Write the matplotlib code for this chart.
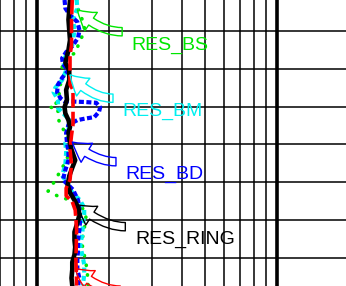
import numpy as np
import matplotlib
matplotlib.use('Agg')
import matplotlib.pyplot as plt

plt.rcParams['font.family'] = ['Liberation Sans', 'DejaVu Sans']

# resistivity curves (ohm.m) vs depth (m)
ring_depth = [1795.9, 1797.2, 1798.5, 1799.9, 1801.2, 1802.5, 1803.4, 1804.2, 1805.2, 1806.5,
              1807.8, 1809.1, 1810.1, 1810.9, 1811.8, 1812.7, 1813.5, 1814.8, 1815.7, 1817.1,
              1818.1, 1819.2, 1820.4, 1821.4, 1822.4, 1823.3, 1824.3, 1825.4, 1826.6, 1827.7,
              1828.6, 1829.6, 1830.6, 1831.6, 1832.7, 1833.7]
ring_res = [1.37, 1.36, 1.35, 1.36, 1.37, 1.35, 1.33, 1.31, 1.36, 1.36,
            1.32, 1.33, 1.30, 1.31, 1.35, 1.37, 1.35, 1.37, 1.39, 1.44,
            1.40, 1.36, 1.34, 1.37, 1.43, 1.48, 1.50, 1.47, 1.43, 1.43,
            1.44, 1.43, 1.40, 1.40, 1.39, 1.40]

red_depth = [1795.9, 1798.5, 1801.9, 1803.2, 1807.1, 1807.8, 1812.4, 1813.8, 1815.7, 1817.7,
             1819.7, 1820.8, 1821.8, 1822.6, 1823.7, 1826.3, 1830.3, 1833.7]
red_res = [1.40, 1.39, 1.39, 1.37, 1.37, 1.41, 1.41, 1.39, 1.37, 1.39,
           1.37, 1.32, 1.32, 1.40, 1.44, 1.46, 1.45, 1.46]

bd_depth = [1795.9, 1797.0, 1797.9, 1798.8, 1799.9, 1800.9, 1801.9, 1802.8, 1803.6, 1804.4,
            1805.2, 1806.2, 1807.1, 1808.1, 1808.9, 1809.3, 1809.4, 1809.5, 1810.1, 1810.7,
            1811.4, 1811.6, 1811.8, 1812.4, 1813.5, 1814.8, 1816.0, 1817.1, 1818.4, 1819.7,
            1821.0, 1822.4, 1823.7, 1825.0, 1826.3, 1827.7, 1829.0, 1830.3, 1831.6, 1832.7, 1833.7]
bd_res = [1.30, 1.31, 1.37, 1.47, 1.50, 1.48, 1.41, 1.32, 1.27, 1.28,
          1.35, 1.27, 1.22, 1.21, 1.25, 1.30, 1.58, 1.76, 1.83, 1.81,
          1.73, 1.58, 1.47, 1.35, 1.32, 1.33, 1.35, 1.35, 1.31, 1.28,
          1.41, 1.48, 1.50, 1.51, 1.50, 1.48, 1.48, 1.47, 1.47, 1.50, 1.48]

bm_depth = [1795.9, 1797.0, 1798.5, 1799.9, 1801.9, 1803.2, 1804.1, 1805.2, 1806.5, 1807.5,
            1808.1, 1809.1, 1810.2, 1811.1, 1811.8, 1812.8, 1813.8, 1814.8, 1816.0, 1817.7,
            1819.1, 1820.4, 1821.4, 1822.4, 1823.4, 1824.3, 1825.7, 1827.0, 1828.3, 1829.6,
            1830.9, 1832.3, 1833.7]
bm_res = [1.46, 1.47, 1.41, 1.43, 1.40, 1.32, 1.28, 1.32, 1.27, 1.19,
          1.17, 1.22, 1.22, 1.30, 1.37, 1.35, 1.37, 1.31, 1.32, 1.31,
          1.27, 1.35, 1.40, 1.51, 1.57, 1.57, 1.55, 1.54, 1.51, 1.54,
          1.57, 1.57, 1.55]

bs_depth = [1795.9, 1796.8, 1797.9, 1799.2, 1800.5, 1801.9, 1802.8, 1803.8, 1804.9, 1805.6,
            1806.7, 1807.8, 1809.1, 1809.9, 1810.1, 1810.2, 1811.5, 1812.4, 1813.8, 1815.1,
            1816.0, 1817.1, 1818.1, 1819.1, 1820.1, 1821.2, 1821.8, 1822.4, 1823.4, 1824.3,
            1825.7, 1827.0, 1828.3, 1829.6, 1830.9, 1832.3, 1833.7]
bs_res = [1.46, 1.47, 1.51, 1.58, 1.55, 1.48, 1.46, 1.28, 1.27, 1.31,
          1.25, 1.25, 1.21, 1.19, 1.13, 1.22, 1.22, 1.25, 1.33, 1.33,
          1.35, 1.33, 1.27, 1.22, 1.17, 1.11, 1.21, 1.37, 1.54, 1.60,
          1.58, 1.55, 1.54, 1.57, 1.60, 1.62, 1.63]

# callouts: label, colour, tip (res, depth), tail (res, depth), angle of arrow leg
labels = ['RES_BS', 'RES_BM', 'RES_BD', 'RES_RING', '']
label_colors = ['#00e600', '#00f0f0', '#0000ff', '#000000', '#ff0000']
tips = [(1.47, 1797.2), (1.37, 1805.8), (1.40, 1814.7), (1.47, 1823.0), (1.44, 1831.4)]
tails = [(2.26, 1800.1), (2.07, 1808.9), (2.13, 1817.3), (2.33, 1825.9), (2.22, 1834.3)]
legs = [-46, -48, -41, -41, -45]

fig = plt.figure(figsize=(3.46, 2.86), dpi=100)
ax = fig.add_axes([0, 0, 1, 1])
ax.set_xscale('log')
ax.set_xlim(0.6995, 19.39)
ax.set_ylim(1833.75, 1795.9)
ax.set_yticks(np.arange(1800, 1831, 5))

ax.grid(which='major', axis='x', color='black', lw=2.6)
ax.grid(which='minor', axis='x', color='black', lw=1.1)
ax.grid(which='major', axis='y', color='black', lw=1.1)
ax.tick_params(which='both', length=0, labelleft=False, labelbottom=False)
for s in ax.spines.values():
    s.set_visible(False)

ax.plot(bs_res, bs_depth, color='#00e600', lw=2.6, linestyle=(0, (0.1, 2.6)),
        dash_capstyle='round')
ax.plot(bm_res, bm_depth, color='#00f0f0', lw=3, linestyle=(0, (1.2, 0.8)))
ax.plot(bd_res, bd_depth, color='#0000ff', lw=3, linestyle=(0, (1.2, 0.6)))
ax.plot(ring_res, ring_depth, color='black', lw=3.3)
ax.plot(red_res, red_depth, color='red', lw=2.6, linestyle=(0, (4, 1.2)))

for lab, c, tip, tail, a in zip(labels, label_colors, tips, tails, legs):
    ax.annotate('', xy=tip, xytext=tail, annotation_clip=False,
                arrowprops=dict(arrowstyle='simple,head_length=1.3,head_width=1.6,tail_width=0.6',
                                fc='none', ec=c, lw=1, mutation_scale=10,
                                shrinkA=0, shrinkB=0,
                                connectionstyle='angle3,angleA=0,angleB=%d' % a))
    if lab:
        ax.annotate(lab, xy=tail, xytext=(7, -9.5), textcoords='offset points',
                    ha='left', va='center', fontsize=14, color=c)

fig.savefig('out.png', dpi=100)
